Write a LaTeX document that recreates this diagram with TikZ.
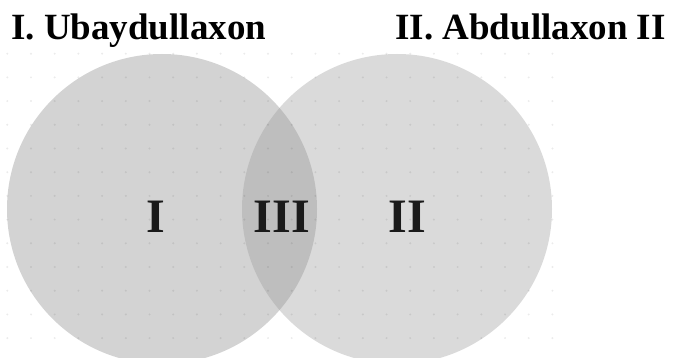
\documentclass[tikz,border=0pt]{standalone}
\usepackage{fontspec}
\setmainfont{Liberation Serif}
\usetikzlibrary{positioning}
\tikzset{
Set/.style={
  circle,
  minimum size=310pt,
  inner sep=0pt,
  },
Title/.style={
  inner sep=0pt,
  anchor=base,
  font=\fontsize{37}{40}\selectfont\bfseries,
  },
Part/.style={
  inner sep=0pt,
  anchor=base,
  text=partText,
  font=\fontsize{48}{50}\selectfont\bfseries,
  },
Dot/.style={
  fill=black,
  opacity=0.08,
  }
}
\definecolor{leftFill}{HTML}{D3D3D3}
\definecolor{rightFill}{HTML}{DADADA}
\definecolor{lensFill}{HTML}{BEBEBE}
\definecolor{partText}{HTML}{1A1A1A}

\begin{document}
\begin{tikzpicture}[x=1pt, y=1pt]
    \useasboundingbox (0,0) rectangle (675,-358);

    % sets
    \node[Set, fill=leftFill] (s1) at (162,-209) {};
    \node[Set, fill=rightFill] (s2) at (397,-209) {};

    % common part
    \begin{scope}
    \clip (s1.center) circle[radius=155pt];
    \fill[lensFill] (s2.center) circle[radius=155pt];
    \end{scope}

    % dot grid
    \foreach \i in {0,...,23}
      \foreach \j in {0,...,12}
        \fill[Dot] (7.3+23.7*\i, -53.7-23.7*\j) circle[radius=1.1pt];

    % titles
    \node[Title, anchor=base west] (t1) at (11,-40) {I. Ubaydullaxon};
    \node[Title, anchor=base east] (t2) at (666,-40) {II. Abdullaxon II};

    % parts
    \node[Part] (p1) at (156,-232.7) {I};
    \node[Part] (p3) at (282,-232.7) {III};
    \node[Part] (p2) at (407.5,-232.7) {II};
\end{tikzpicture}
\end{document}
